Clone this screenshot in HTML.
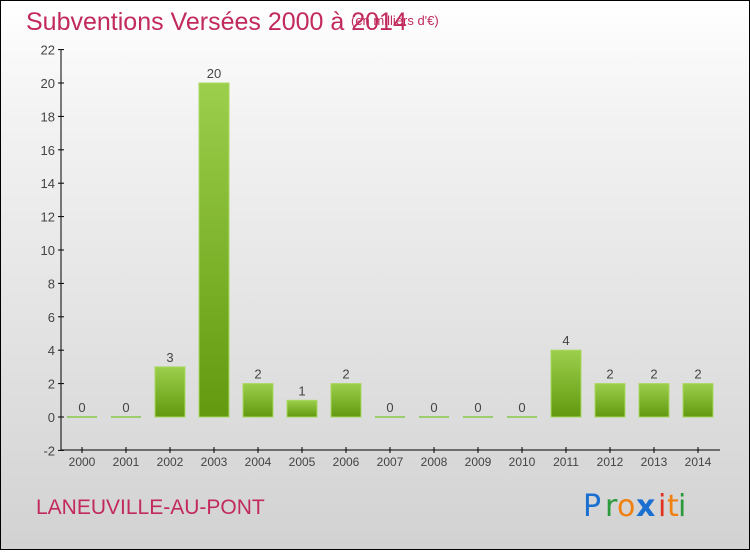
<!DOCTYPE html>
<html><head><meta charset="utf-8"><style>
html,body{margin:0;padding:0}
body{width:750px;height:550px;overflow:hidden;font-family:"Liberation Sans",sans-serif}
#wrap{position:absolute;left:0;top:0;width:748px;height:548px;border:1px solid #000;background:linear-gradient(#ffffff,#f3f3f3 20%,#d2d2d2)}
</style></head><body>
<div id="wrap">
<svg width="748" height="548" viewBox="1 1 748 548" xmlns="http://www.w3.org/2000/svg">
<defs>
<linearGradient id="g" x1="0" y1="0" x2="0" y2="1"><stop offset="0" stop-color="#9ccf4c"/><stop offset="1" stop-color="#62990f"/></linearGradient>
</defs>
<text x="26" y="30" font-size="25" fill="#c2295e">Subventions Versées 2000 à 2014</text>
<text x="351" y="25" font-size="13" fill="#c2295e">(en milliers d'€)</text>
<g id="axes"></g>
<g id="bars"></g>
<text x="36" y="514" font-size="21" fill="#c2295e">LANEUVILLE-AU-PONT</text>
<g font-size="30" font-family="'DejaVu Sans',sans-serif">
<text x="583" y="516" fill="#1a6fd0">P</text><text x="605" y="516" fill="#2a9a3a">r</text><text x="617" y="516" fill="#f08010">o</text><text x="636" y="516" fill="#1a6fd0" font-weight="bold">x</text><text x="658" y="516" fill="#e03020">i</text><text x="667" y="516" fill="#f08010">t</text><text x="678" y="516" fill="#2a9a3a">i</text>
</g>
</svg></div>
<script>
const categories=["2000","2001","2002","2003","2004","2005","2006","2007","2008","2009","2010","2011","2012","2013","2014"];
const values=[0,0,3,20,2,1,2,0,0,0,0,4,2,2,2];
const yTicks=[-2,0,2,4,6,8,10,12,14,16,18,20,22];
const NS="http://www.w3.org/2000/svg";
const y=v=>417-(v*16.7);
const x=i=>82+i*44;
function mk(t,a,p){const e=document.createElementNS(NS,t);for(const k in a)e.setAttribute(k,a[k]);p.appendChild(e);return e;}
const ax=document.getElementById('axes'),bg=document.getElementById('bars');
let l=mk('line',{x1:61,y1:y(22),x2:61,y2:450,stroke:'#000'},ax);


l=mk('line',{x1:61,y1:450,x2:720,y2:450,stroke:'#000'},ax);


yTicks.forEach(v=>{
 mk('line',{x1:58,y1:y(v),x2:64,y2:y(v),stroke:'#000'},ax);
 const t=mk('text',{x:55,y:y(v)+5,'font-size':13,fill:'#444','text-anchor':'end'},ax);
 t.textContent=v;
 
 
});
categories.forEach((c,i)=>{
 mk('line',{x1:x(i),y1:447,x2:x(i),y2:453,stroke:'#000'},ax);
 const t=mk('text',{x:x(i),y:466,'font-size':12,fill:'#444','text-anchor':'middle'},ax);
 t.textContent=c;
 
 
 const v=values[i];
 let r;
 if(v===0){r=mk('rect',{x:x(i)-15,y:y(0)-1,width:30,height:2,fill:'#9ccf6c'},bg);}
 else{r=mk('rect',{x:x(i)-15,y:y(v),width:30,height:y(0)-y(v),fill:'url(#g)',stroke:'#a8d860','stroke-width':1},bg);}
 
 
 const vt=mk('text',{x:x(i),y:y(v)-5,'font-size':13,fill:'#444','text-anchor':'middle'},bg);
 vt.textContent=v;
 
 
});
</script>
</body></html>
